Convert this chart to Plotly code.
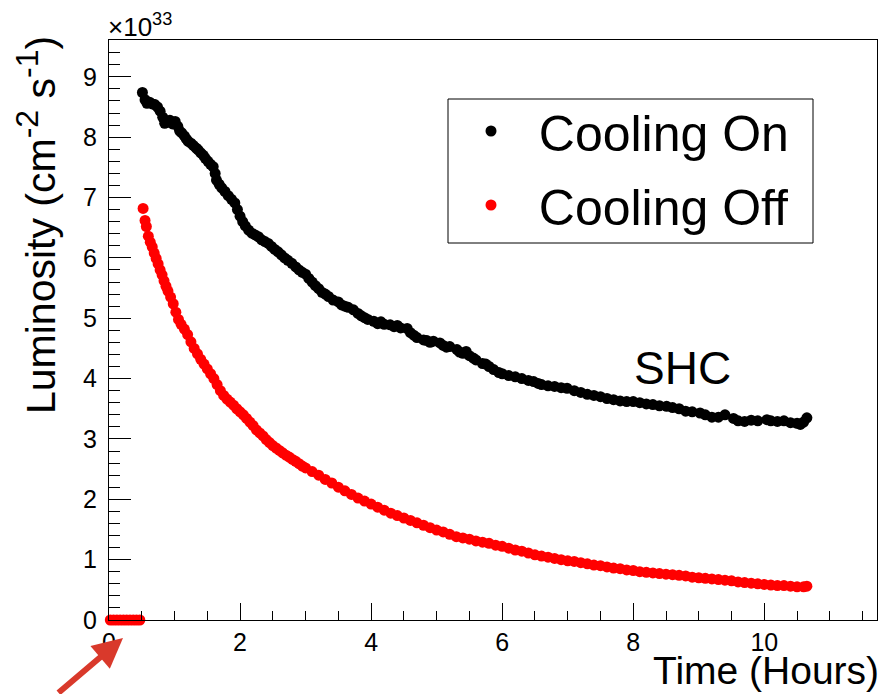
import plotly.graph_objects as go

# ---------------- data ----------------
time_on = [0.51, 0.55, 0.58, 0.62, 0.66, 0.70, 0.74, 0.78, 0.82, 0.85, 0.89, 0.93, 0.97, 1.01,
           1.05, 1.08, 1.11, 1.15, 1.18, 1.21, 1.25, 1.29, 1.33, 1.36, 1.40, 1.44, 1.47, 1.51,
           1.55, 1.59, 1.62, 1.64, 1.68, 1.72, 1.77, 1.82, 1.87, 1.92, 1.96, 2.00, 2.04, 2.08,
           2.13, 2.18, 2.23, 2.28, 2.33, 2.38, 2.43, 2.48, 2.53, 2.58, 2.63, 2.68, 2.73, 2.79,
           2.85, 2.90, 2.95, 3.00, 3.05, 3.10, 3.15, 3.20, 3.25, 3.30, 3.35, 3.42, 3.50, 3.55,
           3.60, 3.65, 3.73, 3.80, 3.85, 3.90, 3.95, 4.04, 4.10, 4.15, 4.20, 4.29, 4.35, 4.40,
           4.45, 4.55, 4.60, 4.65, 4.70, 4.80, 4.85, 4.90, 4.95, 5.05, 5.10, 5.15, 5.20, 5.31,
           5.35, 5.40, 5.45, 5.50, 5.56, 5.60, 5.70, 5.75, 5.80, 5.87, 5.95, 6.00, 6.10, 6.20,
           6.30, 6.40, 6.48, 6.55, 6.60, 6.70, 6.80, 6.90, 6.99, 7.10, 7.20, 7.30, 7.40, 7.50,
           7.60, 7.70, 7.80, 7.90, 8.00, 8.10, 8.20, 8.30, 8.40, 8.51, 8.60, 8.70, 8.80, 8.90,
           9.02, 9.10, 9.20, 9.30, 9.40, 9.53, 9.60, 9.70, 9.80, 9.90, 10.04, 10.10, 10.20,
           10.30, 10.40, 10.50, 10.55, 10.60, 10.65]
lumi_on = [8.74, 8.62, 8.56, 8.58, 8.55, 8.54, 8.50, 8.43, 8.33, 8.23, 8.25, 8.28, 8.22, 8.26,
           8.18, 8.10, 8.07, 8.02, 7.97, 7.93, 7.90, 7.86, 7.82, 7.79, 7.74, 7.70, 7.65, 7.60,
           7.55, 7.51, 7.40, 7.29, 7.22, 7.16, 7.10, 7.03, 6.97, 6.91, 6.80, 6.69, 6.60, 6.53,
           6.46, 6.41, 6.38, 6.35, 6.30, 6.27, 6.24, 6.19, 6.14, 6.10, 6.05, 6.00, 5.96, 5.91,
           5.85, 5.80, 5.76, 5.73, 5.66, 5.60, 5.54, 5.49, 5.43, 5.40, 5.36, 5.30, 5.27, 5.22,
           5.20, 5.18, 5.14, 5.08, 5.04, 5.01, 4.98, 4.95, 4.91, 4.94, 4.90, 4.89, 4.86, 4.88,
           4.84, 4.83, 4.76, 4.72, 4.68, 4.64, 4.63, 4.60, 4.62, 4.59, 4.55, 4.52, 4.53, 4.48,
           4.44, 4.42, 4.45, 4.38, 4.34, 4.31, 4.25, 4.24, 4.20, 4.15, 4.10, 4.08, 4.05, 4.03,
           4.00, 3.97, 3.95, 3.92, 3.90, 3.88, 3.87, 3.85, 3.84, 3.80, 3.77, 3.74, 3.72, 3.70,
           3.67, 3.65, 3.63, 3.62, 3.62, 3.60, 3.58, 3.57, 3.55, 3.54, 3.52, 3.50, 3.46, 3.45,
           3.43, 3.40, 3.36, 3.36, 3.40, 3.34, 3.30, 3.29, 3.31, 3.30, 3.32, 3.30, 3.29,
           3.30, 3.27, 3.26, 3.24, 3.28, 3.35]

time_off = [0.02, 0.07, 0.12, 0.17, 0.22, 0.27, 0.32, 0.37, 0.42, 0.47,
            0.52, 0.55, 0.57, 0.60, 0.63, 0.66, 0.69, 0.72, 0.75, 0.78, 0.81, 0.84, 0.87, 0.90,
            0.94, 0.98, 1.02, 1.06, 1.10, 1.15, 1.20, 1.25, 1.30, 1.35, 1.40, 1.45, 1.50, 1.55,
            1.60, 1.65, 1.70, 1.75, 1.80, 1.85, 1.90, 1.95, 2.00, 2.05, 2.10, 2.15, 2.20, 2.25,
            2.30, 2.35, 2.40, 2.45, 2.50, 2.55, 2.60, 2.65, 2.70, 2.75, 2.80, 2.85, 2.90, 2.95,
            3.00, 3.10, 3.20, 3.30, 3.40, 3.50, 3.60, 3.70, 3.80, 3.90, 4.00, 4.10, 4.20, 4.30,
            4.40, 4.50, 4.60, 4.70, 4.80, 4.90, 5.00, 5.10, 5.20, 5.30, 5.40, 5.50, 5.60, 5.70,
            5.80, 5.90, 6.00, 6.10, 6.20, 6.30, 6.40, 6.50, 6.60, 6.70, 6.80, 6.90, 7.00, 7.10,
            7.20, 7.30, 7.40, 7.50, 7.60, 7.70, 7.80, 7.90, 8.00, 8.10, 8.20, 8.30, 8.40, 8.50,
            8.60, 8.70, 8.80, 8.90, 9.00, 9.10, 9.20, 9.30, 9.40, 9.50, 9.60, 9.70, 9.80, 9.90,
            10.00, 10.10, 10.20, 10.30, 10.40, 10.50, 10.60, 10.65]
lumi_off = [0, 0, 0, 0, 0, 0, 0, 0, 0, 0,
            6.82, 6.62, 6.52, 6.36, 6.26, 6.18, 6.08, 5.99, 5.90, 5.80, 5.72, 5.62, 5.53, 5.45,
            5.35, 5.24, 5.10, 4.98, 4.90, 4.82, 4.73, 4.61, 4.50, 4.41, 4.32, 4.24, 4.16, 4.08,
            4.00, 3.90, 3.80, 3.72, 3.66, 3.61, 3.56, 3.50, 3.45, 3.40, 3.34, 3.28, 3.22, 3.15,
            3.10, 3.05, 2.99, 2.94, 2.89, 2.85, 2.81, 2.77, 2.73, 2.70, 2.66, 2.63, 2.59, 2.55,
            2.52, 2.46, 2.40, 2.33, 2.27, 2.20, 2.14, 2.08, 2.02, 1.97, 1.92, 1.87, 1.82, 1.77,
            1.73, 1.69, 1.65, 1.61, 1.57, 1.53, 1.49, 1.46, 1.42, 1.38, 1.36, 1.34, 1.31, 1.29,
            1.27, 1.24, 1.22, 1.19, 1.16, 1.14, 1.11, 1.08, 1.06, 1.04, 1.02, 1.00, 0.98, 0.97,
            0.95, 0.93, 0.91, 0.90, 0.88, 0.86, 0.85, 0.83, 0.82, 0.80, 0.79, 0.78, 0.77, 0.76,
            0.75, 0.74, 0.73, 0.71, 0.70, 0.69, 0.68, 0.67, 0.66, 0.65, 0.63, 0.62, 0.61, 0.60,
            0.59, 0.58, 0.57, 0.57, 0.56, 0.55, 0.55, 0.56]

series_names = ["Cooling On", "Cooling Off"]
x_tickvals = [0, 2, 4, 6, 8, 10]
y_tickvals = [0, 1, 2, 3, 4, 5, 6, 7, 8, 9]

# ---------------- layout helpers ----------------
W, H = 879, 694
L, R, T, B = 109, 877, 40, 620
FONT = "Liberation Sans, Arial, Helvetica, sans-serif"


def px_x(p):
    return (p - L) / (R - L)


def px_y(p):
    return (B - p) / (B - T)


fig = go.Figure()
fig.add_trace(go.Scatter(
    x=time_on, y=lumi_on, mode="markers", name="\u00a0\u00a0" + series_names[0],
    legendgroup="on",
    marker=dict(color="#000000", size=11, line=dict(width=0)), cliponaxis=False))
fig.add_trace(go.Scatter(
    x=time_off, y=lumi_off, mode="markers", name="\u00a0\u00a0" + series_names[1],
    legendgroup="off",
    marker=dict(color="#ff0000", size=11, line=dict(width=0)), cliponaxis=False))

axis_common = dict(showline=True, linecolor="black", linewidth=1, mirror=True,
                   showgrid=False, zeroline=False, ticks="inside", tickcolor="black",
                   tickwidth=1, automargin=False,
                   tickfont=dict(family=FONT, size=25, color="black"))

fig.update_xaxes(range=[0, 11.72], tickmode="array", tickvals=x_tickvals,
                 ticklen=17, ticklabelstandoff=0,
                 minor=dict(ticks="inside", dtick=0.5, ticklen=9, tickcolor="black", tickwidth=1),
                 **axis_common)
fig.update_yaxes(range=[0, 9.61], tickmode="array", tickvals=y_tickvals,
                 ticklen=22, ticklabelstandoff=6,
                 minor=dict(ticks="inside", dtick=0.2, ticklen=11, tickcolor="black", tickwidth=1),
                 **axis_common)

sup = '<sup><span style="font-size:32px">{}</span></sup>'
ytitle = "Luminosity (cm" + sup.format("-2") + " s" + sup.format("-1") + ")"

fig.update_layout(
    width=W, height=H,
    margin=dict(l=L, r=W - R, t=T, b=H - B, pad=0),
    plot_bgcolor="white", paper_bgcolor="white",
    font=dict(family=FONT, color="black"),
    showlegend=True,
    legend=dict(x=px_x(471), y=px_y(92), xanchor="left", yanchor="top",
                font=dict(family=FONT, size=50, color="black"),
                bgcolor="rgba(0,0,0,0)", borderwidth=0, itemsizing="trace",
                tracegroupgap=6),
    shapes=[dict(type="rect", xref="paper", yref="paper",
                 x0=px_x(448), x1=px_x(813), y0=px_y(243), y1=px_y(99),
                 line=dict(color="black", width=1), fillcolor="rgba(0,0,0,0)")],
    annotations=[
        dict(text=ytitle, textangle=-90,
             xref="paper", yref="paper", x=px_x(36), y=px_y(34),
             xanchor="center", yanchor="top", showarrow=False,
             font=dict(family=FONT, size=41, color="black")),
        dict(text="Time (Hours)", xref="paper", yref="paper",
             x=px_x(881), y=px_y(670), xanchor="right", yanchor="middle", showarrow=False,
             font=dict(family=FONT, size=39, color="black")),
        dict(text="\u00d710<sup>33</sup>", xref="paper", yref="paper",
             x=px_x(106), y=px_y(44), xanchor="left", yanchor="bottom", showarrow=False,
             font=dict(family=FONT, size=26, color="black")),
        dict(text="SHC", xref="paper", yref="paper",
             x=px_x(632), y=px_y(368), xanchor="left", yanchor="middle", showarrow=False,
             font=dict(family=FONT, size=46, color="black")),
        dict(text="", xref="paper", yref="paper", x=px_x(123), y=px_y(638),
             showarrow=True, arrowhead=2, arrowsize=1, arrowwidth=6,
             arrowcolor="#d9392b", ax=-66, ay=60),
    ],
)

fig.write_html("out.html", config={"displayModeBar": False},
               post_script="document.body.style.margin='0';")
